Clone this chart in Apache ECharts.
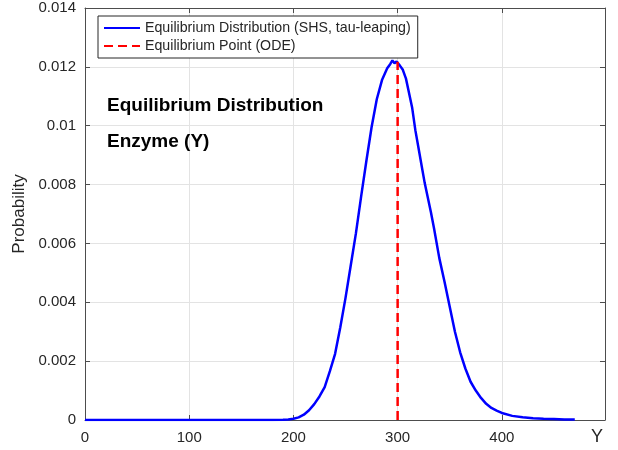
<!DOCTYPE html>
<html>
<head>
<meta charset="utf-8">
<script src="https://cdn.jsdelivr.net/npm/echarts@6/dist/echarts.min.js"></script>
<style>
html, body { margin: 0; padding: 0; background: #fff; }
#chart { width: 618px; height: 450px; }
</style>
</head>
<body>
<div id="chart"></div>
<script>
// 平衡分布 (SHS, tau-leaping) 读图估计值
const yValues = [0, 50, 100, 150, 180, 190, 195, 200, 205, 210, 215, 220, 225, 230, 235, 240, 245, 250, 255, 260,
  265, 270, 275, 280, 285, 290, 293, 295, 297, 299, 302, 305, 308, 311, 314, 317, 320, 323, 326, 329,
  332, 335, 340, 345, 350, 355, 360, 365, 370, 375, 380, 385, 390, 395, 400, 410, 420, 430, 440, 450, 460, 470]
const probValues = [0, 0, 0, 0, 0, 0.00001, 0.00002, 0.00004, 0.00009, 0.00018, 0.00033, 0.00054, 0.0008, 0.00112, 0.00166, 0.00225, 0.00315, 0.00415, 0.00525, 0.00635,
  0.0076, 0.0088, 0.00995, 0.0109, 0.01155, 0.01195, 0.0121, 0.01222, 0.01212, 0.01218, 0.01205, 0.0119, 0.0116, 0.0111, 0.0106, 0.00985, 0.00925, 0.00865, 0.00805, 0.00755,
  0.00705, 0.0065, 0.0055, 0.0047, 0.00385, 0.003, 0.0023, 0.00175, 0.0013, 0.001, 0.00075, 0.00055, 0.00041, 0.00032, 0.00024, 0.00014, 0.00009, 0.00006, 0.00004, 0.00003, 0.00002, 0.00002]
// 平衡点 (ODE)
const odeY = 300
const odeTop = 0.01217
const names = ['Equilibrium Distribution (SHS, tau-leaping)', 'Equilibrium Point (ODE)']

const chart = echarts.init(document.getElementById('chart'), null, { renderer: 'canvas' })
const axisColor = '#4d4d4d'
const labelColor = '#262626'
const font = 'Liberation Sans, Arial, sans-serif'

const option = {
  animation: false,
  backgroundColor: '#fff',
  grid: { left: 85, right: 13, top: 8, bottom: 30 },
  legend: {
    orient: 'vertical',
    left: 98, top: 16,
    data: names,
    backgroundColor: '#fff',
    borderColor: '#262626',
    borderWidth: 1,
    borderRadius: 0,
    padding: [5, 7, 5, 5],
    itemGap: 4,
    itemWidth: 36,
    itemHeight: 14,
    itemStyle: { opacity: 0 },
    textStyle: { color: labelColor, fontSize: 14.2, fontFamily: font }
  },
  xAxis: [{
    type: 'value', min: 0, max: 499, interval: 100,
    splitLine: { show: true, lineStyle: { color: '#e3e3e3' } },
    axisLine: { show: true, onZero: false, lineStyle: { color: axisColor } },
    axisTick: { show: true, inside: true, length: 5, lineStyle: { color: axisColor } },
    axisLabel: { color: labelColor, fontSize: 15, fontFamily: font, margin: 10, showMaxLabel: false }
  }, {
    type: 'value', min: 0, max: 499, interval: 100, position: 'top',
    splitLine: { show: false },
    axisLine: { show: true, onZero: false, lineStyle: { color: axisColor } },
    axisTick: { show: true, inside: true, length: 5, lineStyle: { color: axisColor } },
    axisLabel: { show: false }
  }],
  yAxis: [{
    type: 'value', min: 0, max: 0.014, interval: 0.002,
    name: 'Probability', nameLocation: 'middle', nameGap: 55,
    nameTextStyle: { color: labelColor, fontSize: 17, fontFamily: font },
    splitLine: { show: true, lineStyle: { color: '#e3e3e3' } },
    axisLine: { show: true, onZero: false, lineStyle: { color: axisColor } },
    axisTick: { show: true, inside: true, length: 5, lineStyle: { color: axisColor } },
    axisLabel: { color: labelColor, fontSize: 15, fontFamily: font, margin: 9 }
  }, {
    type: 'value', min: 0, max: 0.014, interval: 0.002, position: 'right',
    splitLine: { show: false },
    axisLine: { show: true, onZero: false, lineStyle: { color: axisColor } },
    axisTick: { show: true, inside: true, length: 5, lineStyle: { color: axisColor } },
    axisLabel: { show: false }
  }],
  graphic: [
    { type: 'text', left: 107, top: 96, z: 100, style: { text: 'Equilibrium Distribution', fill: '#000', font: 'bold 19px ' + font } },
    { type: 'text', left: 107, top: 132, z: 100, style: { text: 'Enzyme (Y)', fill: '#000', font: 'bold 19px ' + font } },
    { type: 'text', left: 591, top: 428, z: 100, style: { text: 'Y', fill: labelColor, font: '18px ' + font } }
  ],
  series: [{
    name: names[0],
    type: 'line',
    xAxisIndex: 0, yAxisIndex: 0,
    data: yValues.map((v, i) => [v, probValues[i]]),
    symbol: 'none',
    lineStyle: { color: '#0000ff', width: 2.5 },
    itemStyle: { color: '#0000ff' },
    z: 3
  }, {
    name: names[1],
    type: 'line',
    xAxisIndex: 0, yAxisIndex: 0,
    data: [[odeY, 0], [odeY, odeTop]],
    symbol: 'none',
    lineStyle: { color: '#ff0000', width: 2.5, type: [9, 5] },
    itemStyle: { color: '#ff0000' },
    z: 4
  }]
}
chart.setOption(option)
</script>
</body>
</html>
